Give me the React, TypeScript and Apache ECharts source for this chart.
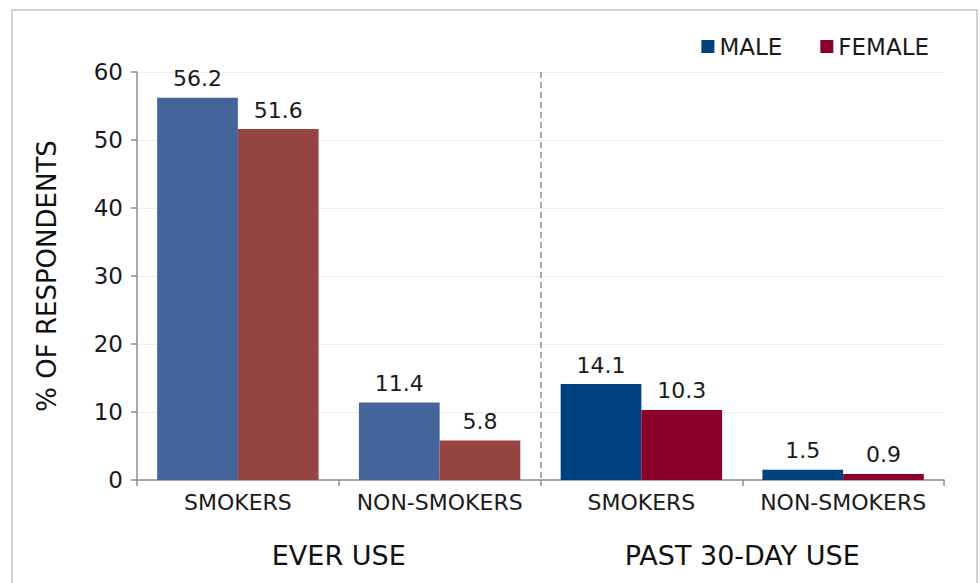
import React, { useEffect, useRef } from "react";
import * as echarts from "echarts";

const categories = ["SMOKERS", "NON-SMOKERS", "SMOKERS", "NON-SMOKERS"];
const groups = ["EVER USE", "PAST 30-DAY USE"];
const maleValues = [56.2, 11.4, 14.1, 1.5];
const femaleValues = [51.6, 5.8, 10.3, 0.9];
const maleColors = ["#44649a", "#44649a", "#00427f", "#00427f"];
const femaleColors = ["#954643", "#954643", "#8b0029", "#8b0029"];
const seriesNames = ["MALE", "FEMALE"];

const FONT = "DejaVu Sans";

export default function App() {
  const ref = useRef<HTMLDivElement>(null);
  useEffect(() => {
    if (!ref.current) return;
    const chart = echarts.init(ref.current, undefined, { renderer: "svg" });
    const label = {
      show: true,
      position: "top",
      distance: 8,
      fontFamily: FONT,
      fontSize: 22,
      color: "#1a1a1a",
      formatter: (p: any) => Number(p.value).toFixed(1),
    };
    chart.setOption({
      animation: false,
      textStyle: { fontFamily: FONT },
      graphic: [
        {
          type: "rect",
          shape: { x: 12, y: 10, width: 965, height: 590 },
          style: { fill: "none", stroke: "#c4c4c4", lineWidth: 1.5 },
          silent: true,
        },
      ],
      legend: {
        right: 46,
        top: 30,
        itemWidth: 13,
        itemHeight: 13,
        itemGap: 38,
        icon: "rect",
        textStyle: { fontFamily: FONT, fontSize: 23, color: "#1a1a1a" },
        data: seriesNames,
      },
      grid: { left: 137, right: 36, top: 72, bottom: 103 },
      xAxis: [
        {
          type: "category",
          data: categories,
          axisLine: { lineStyle: { color: "#8c8c8c", width: 1.5 } },
          axisTick: { show: true, interval: 0, length: 6, lineStyle: { color: "#8c8c8c", width: 1.5 } },
          axisLabel: { interval: 0, hideOverlap: false, margin: 11, fontFamily: FONT, fontSize: 22, color: "#1a1a1a" },
        },
        {
          type: "category",
          data: groups,
          position: "bottom",
          axisLine: { show: false },
          axisTick: { show: false },
          axisLabel: { interval: 0, margin: 62, fontFamily: FONT, fontSize: 27, color: "#111" },
        },
        {
          type: "value",
          min: 0,
          max: 2,
          interval: 1,
          position: "top",
          axisLine: { show: false },
          axisTick: { show: false },
          axisLabel: { show: false },
          splitLine: {
            show: true,
            showMinLine: false,
            showMaxLine: false,
            lineStyle: { color: "#8c8c8c", width: 1.5, type: [6, 4] },
          },
        },
      ],
      yAxis: {
        type: "value",
        min: 0,
        max: 60,
        interval: 10,
        name: "% OF RESPONDENTS",
        nameLocation: "middle",
        nameGap: 77,
        nameTextStyle: { fontFamily: FONT, fontSize: 26, fontWeight: "normal", color: "#111" },
        axisLine: { show: true, lineStyle: { color: "#8c8c8c", width: 1.5 } },
        axisTick: { show: true, length: 6, lineStyle: { color: "#8c8c8c", width: 1.5 } },
        axisLabel: { margin: 14, fontFamily: FONT, fontSize: 23, color: "#1a1a1a" },
        splitLine: { show: true, lineStyle: { color: "#ececec", width: 1 } },
      },
      series: [
        {
          name: seriesNames[0],
          type: "bar",
          xAxisIndex: 0,
          barGap: "0%",
          barCategoryGap: "20%",
          itemStyle: { color: "#00427f" },
          label,
          data: maleValues.map((v, i) => ({ value: v, itemStyle: { color: maleColors[i] } })),
        },
        {
          name: seriesNames[1],
          type: "bar",
          xAxisIndex: 0,
          barGap: "0%",
          barCategoryGap: "20%",
          itemStyle: { color: "#8b0029" },
          label,
          data: femaleValues.map((v, i) => ({ value: v, itemStyle: { color: femaleColors[i] } })),
        },
      ],
    });
    return () => chart.dispose();
  }, []);
  return (
    <div
      ref={ref}
      style={{ position: "fixed", left: 0, top: 0, width: 980, height: 583, background: "#fff" }}
    />
  );
}
